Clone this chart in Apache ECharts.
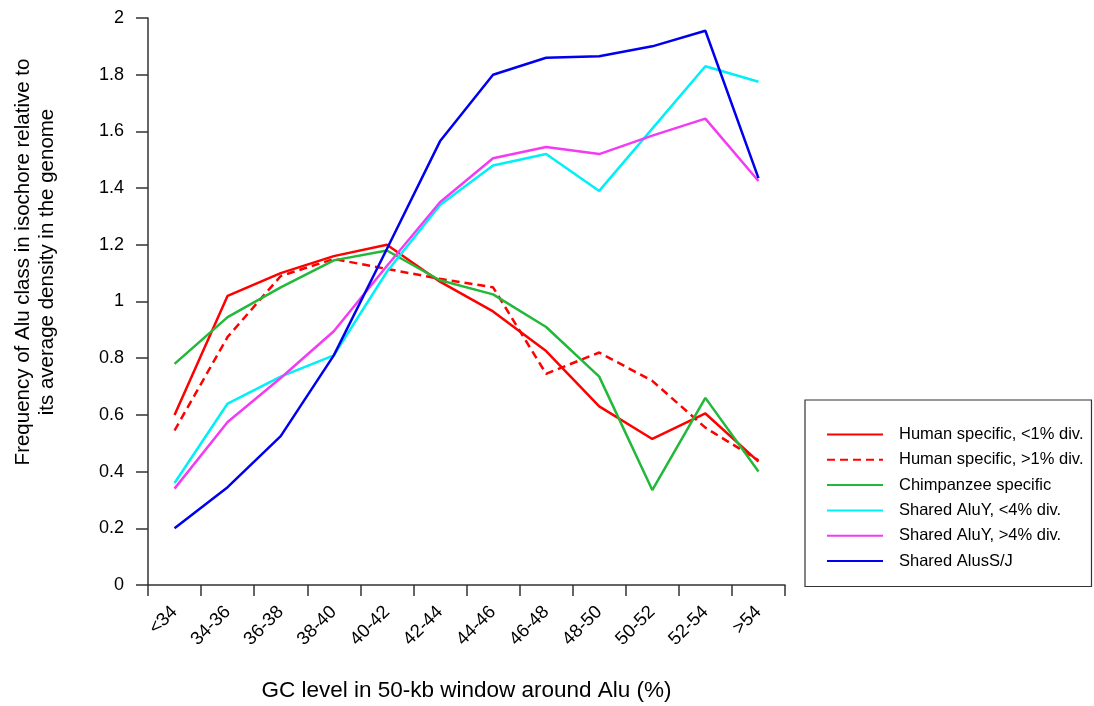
<!DOCTYPE html>
<html>
<head>
<meta charset="utf-8">
<title>Alu class frequency by GC level</title>
<script src="https://cdn.jsdelivr.net/npm/echarts@6/dist/echarts.min.js"></script>
<style>
  html, body { margin: 0; padding: 0; background: #fff; }
  #chart { width: 1094px; height: 706px; }
</style>
</head>
<body>
<div id="chart"></div>
<script>
// GC-level bins (x axis)
const categories = ['<34', '34-36', '36-38', '38-40', '40-42', '42-44', '44-46', '46-48', '48-50', '50-52', '52-54', '>54'];

// Frequency relative to genome-wide average density, one array per Alu class
const humanLowDiv  = [0.60, 1.02, 1.10, 1.16, 1.20, 1.07, 0.965, 0.825, 0.63, 0.515, 0.605, 0.435];
const humanHighDiv = [0.545, 0.875, 1.09, 1.15, 1.115, 1.08, 1.05, 0.745, 0.82, 0.72, 0.555, 0.44];
const chimpSpecific = [0.78, 0.945, 1.05, 1.145, 1.18, 1.075, 1.025, 0.91, 0.735, 0.335, 0.66, 0.40];
const aluYLowDiv   = [0.36, 0.64, 0.735, 0.81, 1.105, 1.34, 1.48, 1.52, 1.39, 1.61, 1.83, 1.775];
const aluYHighDiv  = [0.34, 0.575, 0.73, 0.895, 1.125, 1.35, 1.505, 1.545, 1.52, 1.585, 1.645, 1.425];
const aluSJ        = [0.20, 0.345, 0.525, 0.81, 1.185, 1.565, 1.80, 1.86, 1.865, 1.90, 1.955, 1.435];

const seriesNames = [
  'Human specific, <1% div.',
  'Human specific, >1% div.',
  'Chimpanzee specific',
  'Shared AluY, <4% div.',
  'Shared AluY, >4% div.',
  'Shared AlusS/J'
];

const FONT = '"Liberation Sans", Arial, Helvetica, sans-serif';
const chart = echarts.init(document.getElementById('chart'), null, { renderer: 'canvas' });

function lineSeries(name, data, color, dashed) {
  return {
    name: name,
    type: 'line',
    data: data,
    symbol: 'none',
    showSymbol: false,
    smooth: false,
    animation: false,
    lineStyle: { color: color, width: 2.5, type: dashed ? [8, 5] : 'solid', cap: 'butt' },
    itemStyle: { color: color }
  };
}

chart.setOption({
  backgroundColor: '#ffffff',
  animation: false,
  textStyle: { fontFamily: FONT, color: '#000' },
  grid: { left: 148, right: 309, top: 18, bottom: 121, containLabel: false, outerBoundsMode: 'none' },
  xAxis: {
    type: 'category',
    data: categories,
    boundaryGap: true,
    name: 'GC level in 50-kb window around Alu (%)',
    nameLocation: 'middle',
    nameGap: 94,
    nameTextStyle: { fontSize: 22.5, color: '#000', fontFamily: FONT },
    axisLine: { show: true, lineStyle: { color: '#333', width: 1.5 } },
    axisTick: { show: true, alignWithLabel: false, interval: 0, length: 11, lineStyle: { color: '#333', width: 1.5 } },
    axisLabel: { interval: 0, rotate: 45, margin: 24, fontSize: 18.5, color: '#000', fontFamily: FONT },
    splitLine: { show: false }
  },
  yAxis: {
    type: 'value',
    min: 0,
    max: 2,
    interval: 0.2,
    axisLine: { show: true, lineStyle: { color: '#333', width: 1.5 } },
    axisTick: { show: true, inside: false, length: 12, lineStyle: { color: '#333', width: 1.5 } },
    axisLabel: { margin: 24, fontSize: 18, color: '#000', fontFamily: FONT },
    splitLine: { show: false }
  },
  legend: {
    orient: 'vertical',
    left: 805,
    top: 400,
    data: seriesNames,
    itemWidth: 56,
    itemHeight: 14,
    itemGap: 8.3,
    padding: [26, 8, 17, 21],
    borderColor: '#333',
    borderWidth: 1.2,
    selectedMode: false,
    itemStyle: { opacity: 0 },
    textStyle: { fontSize: 16.5, color: '#000', fontFamily: FONT, padding: [0, 0, 0, 11] }
  },
  graphic: [
    {
      type: 'text',
      x: 23, y: 262,
      rotation: Math.PI / 2,
      style: {
        text: 'Frequency of Alu class in isochore relative to',
        font: '20.5px ' + FONT,
        fill: '#000',
        textAlign: 'center',
        textVerticalAlign: 'middle'
      }
    },
    {
      type: 'text',
      x: 47, y: 262,
      rotation: Math.PI / 2,
      style: {
        text: 'its average density in the genome',
        font: '20.5px ' + FONT,
        fill: '#000',
        textAlign: 'center',
        textVerticalAlign: 'middle'
      }
    }
  ],
  series: [
    lineSeries(seriesNames[0], humanLowDiv, '#ff0000', false),
    lineSeries(seriesNames[1], humanHighDiv, '#ff0000', true),
    lineSeries(seriesNames[2], chimpSpecific, '#22b83a', false),
    lineSeries(seriesNames[3], aluYLowDiv, '#00f0f8', false),
    lineSeries(seriesNames[4], aluYHighDiv, '#f23cf2', false),
    lineSeries(seriesNames[5], aluSJ, '#0000ee', false)
  ]
});
</script>
</body>
</html>
